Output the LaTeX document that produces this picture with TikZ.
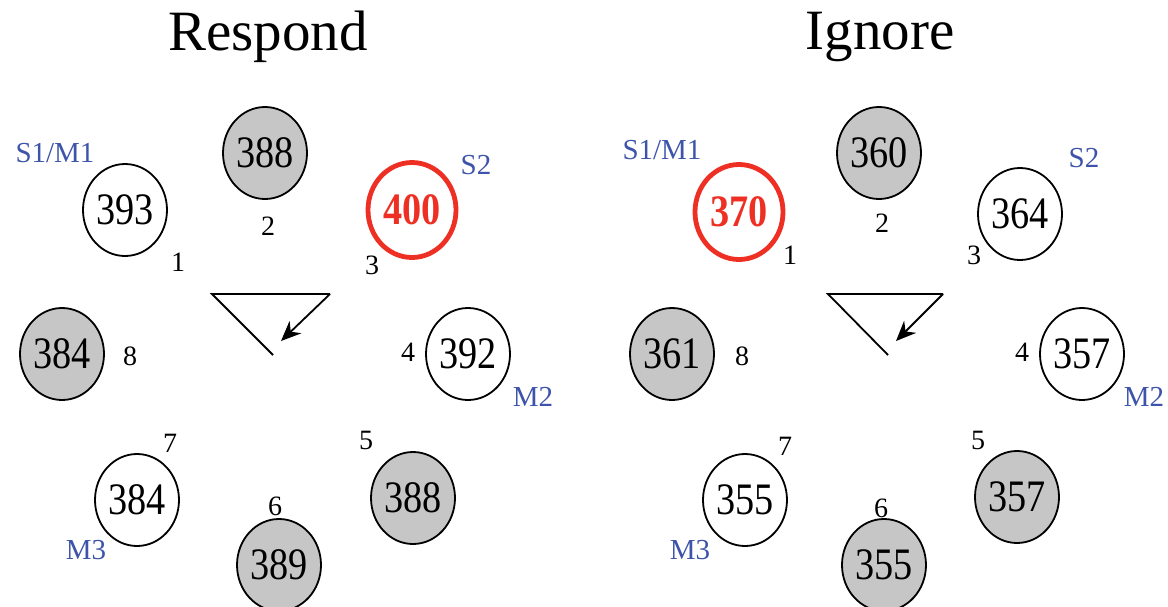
\documentclass[tikz,border=0pt]{standalone}
\usepackage{fontspec}
\setmainfont{Liberation Serif}
\newfontfamily\digitfont[FakeStretch=0.85]{Liberation Serif}
\usetikzlibrary{shapes.geometric,arrows.meta}
\definecolor{cgray}{RGB}{198,198,198}
\definecolor{cred}{RGB}{238,48,36}
\definecolor{cblue}{RGB}{62,84,170}
\tikzset{
  x=1pt,y=-1pt,
  stim/.style={ellipse,draw=black,line width=1.8pt,minimum width=84pt,minimum height=92pt,inner sep=0pt,font=\digitfont\fontsize{45}{45}\selectfont},
  grey/.style={stim,fill=cgray},
  hit/.style={stim,draw=cred,line width=4.8pt,minimum width=88pt,minimum height=95pt,text=cred,font=\digitfont\fontsize{45}{45}\selectfont\bfseries},
  num/.style={inner sep=0pt,font=\fontsize{28}{28}\selectfont},
  lab/.style={inner sep=0pt,text=cblue,font=\fontsize{29}{29}\selectfont},
  ttl/.style={inner sep=0pt,font=\fontsize{57}{57}\selectfont},
  tri/.style={line width=1.8pt,line join=miter},
  arr/.style={line width=1.8pt,-{Stealth[length=20pt,width=17pt]}}
}
\begin{document}
\begin{tikzpicture}
\useasboundingbox (0,0) rectangle (1168,606);
% ---------- Respond ----------
\node[ttl] (Lt) at (268,37) {Respond};
\node[stim] (L1) at (125,210) {393};
\node[grey] (L2) at (265,153) {388};
\node[hit]  (L3) at (412,210) {400};
\node[stim] (L4) at (468,354) {392};
\node[grey] (L5) at (413,498) {388};
\node[grey] (L6) at (279,565) {389};
\node[stim] (L7) at (137,500) {384};
\node[grey] (L8) at (62,354) {384};
\node[num] (Ln1) at (178,262) {1};
\node[num] (Ln2) at (268,226) {2};
\node[num] (Ln3) at (372,265) {3};
\node[num] (Ln4) at (408,352) {4};
\node[num] (Ln5) at (366,440) {5};
\node[num] (Ln6) at (275,506) {6};
\node[num] (Ln7) at (170,443) {7};
\node[num] (Ln8) at (130,356) {8};
\node[lab] (LS1) at (55,153) {S1/M1};
\node[lab] (LS2) at (476,165) {S2};
\node[lab] (LM2) at (533,397) {M2};
\node[lab] (LM3) at (86,550) {M3};
\coordinate (La) at (212,294);
\coordinate (Lb) at (330,294);
\coordinate (Lc) at (273,355);
\coordinate (Ld) at (281,341);
\draw[tri] (Lc) -- (La) -- (Lb);
\draw[arr] (Lb) -- (Ld);
% ---------- Ignore ----------
\node[ttl] (Rt) at (880,37) {Ignore};
\node[hit]  (R1) at (739,212) {370};
\node[grey] (R2) at (879,153) {360};
\node[stim] (R3) at (1020,214) {364};
\node[stim] (R4) at (1082,354) {357};
\node[grey] (R5) at (1017,497) {357};
\node[grey] (R6) at (884,565) {355};
\node[stim] (R7) at (745,500) {355};
\node[grey] (R8) at (672,354) {361};
\node[num] (Rn1) at (790,255) {1};
\node[num] (Rn2) at (882,223) {2};
\node[num] (Rn3) at (974,255) {3};
\node[num] (Rn4) at (1022,352) {4};
\node[num] (Rn5) at (978,440) {5};
\node[num] (Rn6) at (881,508) {6};
\node[num] (Rn7) at (785,446) {7};
\node[num] (Rn8) at (742,356) {8};
\node[lab] (RS1) at (662,150) {S1/M1};
\node[lab] (RS2) at (1084,158) {S2};
\node[lab] (RM2) at (1144,397) {M2};
\node[lab] (RM3) at (690,550) {M3};
\coordinate (Ra) at (828,294);
\coordinate (Rb) at (943,294);
\coordinate (Rc) at (888,355);
\coordinate (Rd) at (896,341);
\draw[tri] (Rc) -- (Ra) -- (Rb);
\draw[arr] (Rb) -- (Rd);
\end{tikzpicture}
\end{document}
